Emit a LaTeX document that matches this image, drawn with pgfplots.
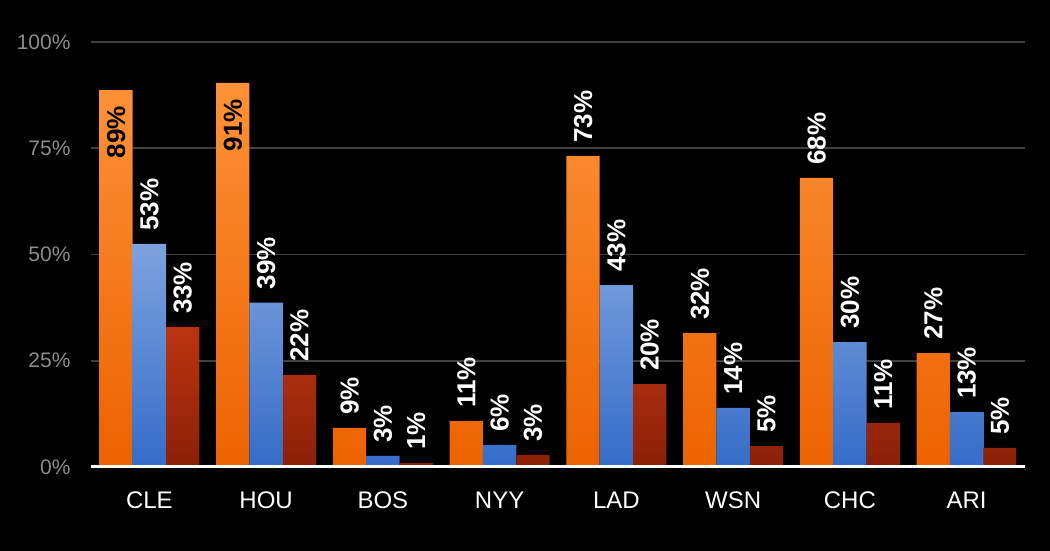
\documentclass[border=0pt]{standalone}
\usepackage{fontspec}
\setmainfont{Liberation Sans}
\usepackage{pgfplots}
\usepackage{pgfplotstable}
\pgfplotsset{compat=1.18}

\definecolor{ldstop}{RGB}{253,146,56}
\definecolor{ldsbot}{RGB}{236,98,0}
\definecolor{lcstop}{RGB}{126,162,222}
\definecolor{lcsbot}{RGB}{52,108,200}
\definecolor{wstop}{RGB}{186,52,16}
\definecolor{wsbot}{RGB}{138,32,8}
\definecolor{gridgray}{RGB}{64,64,64}
\definecolor{ticktext}{RGB}{140,140,140}

% x, bar heights, printed labels
\pgfplotstableread{
x lds  lcs  ws   la lb lc
0 88.7 52.5 32.9 89 53 33
1 90.4 38.7 21.7 91 39 22
2 9.2  2.6  0.9  9  3  1
3 10.8 5.2  2.8  11 6  3
4 73.2 42.8 19.5 73 43 20
5 31.5 13.9 4.9  32 14 5
6 68.0 29.4 10.4 68 30 11
7 26.8 12.9 4.5  27 13 5
}\teams

\begin{document}
\begin{tikzpicture}
\useasboundingbox (0,0) rectangle (1050pt,551pt);
\fill[black] (0,0) rectangle (1050pt,551pt);
\begin{axis}[
  at={(91pt,84pt)}, anchor=south west,
  scale only axis, width=934pt, height=425pt,
  ybar=0pt, bar width=33.3pt,
  xmin=-0.5, xmax=7.5, ymin=0, ymax=100,
  enlargelimits=false, clip=false,
  axis line style={draw=none},
  major tick length=0pt,
  xtick={0,...,7},
  xticklabels={CLE,HOU,BOS,NYY,LAD,WSN,CHC,ARI},
  xticklabel style={font=\fontsize{24}{24}\selectfont, text=white, yshift=-21pt},
  ytick={0,25,50,75,100},
  yticklabel={\pgfmathprintnumber{\tick}\%},
  yticklabel style={font=\fontsize{21}{21}\selectfont, text=ticktext, xshift=-17pt},
  /pgf/number format/assume math mode=true,
  ymajorgrids, grid style={gridgray, line width=1.6pt},
  nodes near coords={\pgfplotspointmeta\%},
  point meta=explicit symbolic,
  every node near coord/.append style={rotate=90, anchor=west,
    font=\bfseries\fontsize{26}{26}\selectfont, text=white,
    inner xsep=13pt, inner ysep=0pt},
]
\addplot[draw=none, top color=ldstop, bottom color=ldsbot,
  visualization depends on={rawy \as \yv},
  every node near coord/.append code={%
    \ifdim\yv pt>80pt \pgfkeysalso{anchor=east, text=black, inner xsep=16pt}\fi}]
  table[x=x, y=lds, meta=la] {\teams};
\addplot[draw=none, top color=lcstop, bottom color=lcsbot]
  table[x=x, y=lcs, meta=lb] {\teams};
\addplot[draw=none, top color=wstop, bottom color=wsbot]
  table[x=x, y=ws, meta=lc] {\teams};
\draw[white, line width=3pt] (axis cs:-0.5,0) -- (axis cs:7.5,0);
\end{axis}
\end{tikzpicture}
\end{document}
